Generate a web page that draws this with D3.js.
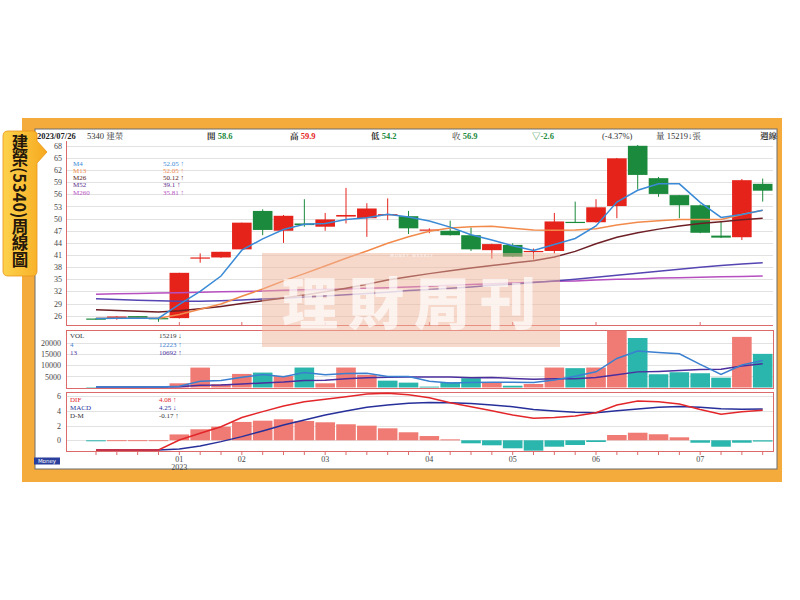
<!DOCTYPE html>
<html><head><meta charset="utf-8">
<script src="https://cdn.jsdelivr.net/npm/d3@7/dist/d3.min.js"></script>
<style>body{margin:0;background:#fff}</style>
</head><body>
<svg id="c" width="800" height="600"></svg>
<script>
// ---------------- data (weekly, Dec 2022 – Jul 2023) ----------------
const weekIdx = d3.range(33);
const openP  = [25.3,25.3,25.9,25.4,25.4,40.3,40.4,42.4,51.9,47.0,48.8,48.0,50.5,50.1,51.0,50.6,47.1,47.0,45.9,42.2,43.5,41.9,42.0,49.2,49.1,53.1,68.0,60.0,55.8,53.3,45.8,45.4,58.6];
const highP  = [25.4,25.9,25.9,25.5,36.6,41.4,41.8,49.0,52.3,50.9,54.8,51.4,57.6,53.8,55.0,51.9,47.6,49.5,47.8,43.8,43.9,42.6,51.4,54.2,54.8,65.0,68.2,60.3,55.8,53.5,49.2,59.8,59.9];
const lowP   = [25.0,25.0,25.3,24.5,25.3,39.1,40.3,42.4,45.9,44.0,48.0,47.0,48.8,45.5,49.6,46.2,46.4,45.8,42.0,40.1,40.5,39.9,41.4,49.0,49.0,50.1,57.2,55.4,50.1,46.4,45.2,44.7,54.2];
const closeP = [25.2,25.8,25.4,25.3,36.6,40.4,41.8,49.0,47.2,50.7,48.4,49.8,50.9,52.5,51.1,47.6,47.3,45.9,42.4,43.7,40.6,42.0,49.3,49.1,52.8,64.9,60.8,56.1,53.3,46.5,45.3,59.5,56.9];
const ma4    = [25.3,25.4,25.4,25.4,28.8,32.0,35.8,42.2,45.0,47.3,48.6,48.8,49.8,50.2,51.1,50.4,49.4,47.9,46.0,44.7,43.3,42.1,43.6,45.1,48.2,54.1,57.0,58.6,58.6,54.0,50.3,51.0,52.05];
const ma13   = [25.4,25.4,25.4,25.4,26.3,27.6,28.9,30.8,32.6,34.6,36.4,38.3,40.2,42.0,43.9,45.5,46.9,47.7,48.0,48.1,47.6,47.2,47.1,47.2,47.5,48.4,49.1,49.5,49.8,49.8,49.8,51.0,52.05];
const ma26   = [27.5,27.3,27.1,26.9,27.2,27.7,28.3,29.0,29.7,30.4,31.1,31.9,32.8,33.8,34.8,35.6,36.4,37.1,37.8,38.4,39.0,39.6,40.5,41.9,43.8,45.4,46.5,47.4,48.2,48.8,49.2,49.7,50.12];
const ma52   = [30.2,30.0,29.8,29.7,29.6,29.6,29.7,29.9,30.1,30.3,30.6,30.9,31.2,31.5,31.8,32.2,32.5,32.8,33.1,33.5,33.8,34.2,34.6,35.0,35.5,36.0,36.5,37.0,37.5,38.0,38.4,38.8,39.1];
const ma260  = [31.3,31.4,31.5,31.6,31.7,31.8,31.9,32.0,32.1,32.3,32.4,32.5,32.6,32.8,32.9,33.1,33.3,33.5,33.7,33.9,34.1,34.3,34.5,34.6,34.8,35.0,35.1,35.3,35.4,35.5,35.6,35.7,35.81];
const volume = [200,150,150,250,1900,9000,1500,6150,6750,5240,9030,1900,9030,5700,3100,2200,400,2350,4200,2350,800,1600,9030,8750,9030,25700,22400,6000,6900,6450,4450,22900,15219];
const volMa4 = [200,180,170,190,610,2800,3150,4640,5850,4910,6790,5730,6300,6415,4930,5010,2850,2010,2290,2325,2425,2240,3445,5045,7100,13140,16480,15800,15260,10440,5950,10175,12223];
const volMa13= [200,200,200,200,330,1000,1100,1560,2070,2450,3130,3260,3940,4370,4590,4750,4760,4800,4430,4490,4080,3680,3980,3950,4500,5790,7070,7290,7650,8120,8280,9720,10692];
const dif    = [-1.32,-1.32,-1.32,-1.32,0.04,0.95,1.85,3.1,3.9,4.67,5.25,5.6,5.93,6.3,6.4,6.2,5.8,5.1,4.57,4.03,3.44,3.0,3.1,3.3,3.76,4.8,5.35,5.25,4.94,4.2,3.54,3.9,4.08];
const macd   = [-1.32,-1.32,-1.32,-1.32,-1.18,-0.78,-0.18,0.5,1.27,2.08,2.76,3.44,3.99,4.49,4.8,5.05,5.15,5.1,5.0,4.8,4.57,4.2,4.0,3.8,3.76,4.03,4.26,4.5,4.6,4.49,4.3,4.22,4.25];
const dm     = [-0.02,0.02,0.02,0.02,0.8,1.5,1.85,2.5,2.67,2.86,2.63,2.45,2.18,1.99,1.63,1.09,0.58,0.13,-0.41,-0.68,-1.09,-1.41,-0.87,-0.64,-0.23,0.72,1.03,0.82,0.41,-0.33,-0.87,-0.33,-0.17];
const monthIdx    = [4,7,11,16,20,24,29];
const monthLabels = ["01","02","03","04","05","06","07"];
const priceTicks  = [26,29,32,35,38,41,44,47,50,53,56,59,62,65,68];
const volTicks    = [5000,10000,15000,20000];
const macdTicks   = [0,2,4,6];
const maNames  = ["M4","M13","M26","M52","M260"];
const maLast   = ["52.05 ↑","52.05 ↑","50.12 ↑","39.1 ↑","35.81 ↑"];
const volNames = ["VOL","4","13"];
const volLast  = ["15219 ↓","12223 ↑","10692 ↑"];
const macdNames= ["DIF","MACD","D-M"];
const macdLast = ["4.08 ↑","4.25 ↓","-0.17 ↑"];

// ---------------- drawing ----------------
const svg = d3.select("#c");
const SERIF = "'Liberation Serif','Noto Serif CJK TC','Noto Sans CJK TC',serif";
const CJK = "'Noto Sans CJK TC','Liberation Serif',sans-serif";
const RED = "#e5231b", GREEN = "#1c8a3c", SALMON = "#f07b74", TEAL = "#2ab5ad";
const PANEL = "#dc6a6a";

// frame
svg.append("rect").attr("x",22).attr("y",118).attr("width",760).attr("height",364).attr("fill","#f5aa3c");
svg.append("rect").attr("x",35).attr("y",129).attr("width",742).attr("height",340).attr("fill","#fff").attr("stroke","#6d6d6d").attr("stroke-width",1);

// side tag (drawn before header so header text stays on top)
const defs = svg.append("defs");
const gr = defs.append("linearGradient").attr("id","tagG").attr("x1",0).attr("x2",1).attr("y1",0).attr("y2",0);
gr.append("stop").attr("offset","0%").attr("stop-color","#fdd24c");
gr.append("stop").attr("offset","100%").attr("stop-color","#f6a91f");
svg.append("path").attr("d","M8,131 H33 Q37,131 37,135 V141 L47,152 L37,163 V271 Q37,276 32,276 H8 Q3,276 3,271 V136 Q3,131 8,131 Z")
  .attr("fill","url(#tagG)").attr("stroke","#e8951a").attr("stroke-width",0.8);
svg.append("text").attr("x",20).attr("y",134).attr("font-family",CJK).attr("font-weight","bold").attr("font-size",16.5)
  .attr("fill","#24170b").style("writing-mode","vertical-rl").text("建榮(5340)周線圖");

const L = 66, R = 773;
const x = d3.scalePoint().domain(weekIdx).range([96, 762.7]);
const bw = 19.6;

const yP = d3.scaleLinear().domain([26,68]).range([315.7,145.8]);
const yV = d3.scaleLinear().domain([0,20000]).range([387.5,343.3]);
const yM = d3.scaleLinear().domain([0,6]).range([440.3,396.2]);

// gridlines
const grid = svg.append("g").attr("stroke","#e2e2e2").attr("stroke-width",1);
grid.selectAll(".gp").data(priceTicks).join("line").attr("x1",L).attr("x2",R).attr("y1",d=>Math.round(yP(d))+0.5).attr("y2",d=>Math.round(yP(d))+0.5);
grid.selectAll(".gv").data(volTicks).join("line").attr("x1",L).attr("x2",R).attr("y1",d=>Math.round(yV(d))+0.5).attr("y2",d=>Math.round(yV(d))+0.5);
grid.selectAll(".gm").data(macdTicks).join("line").attr("x1",L).attr("x2",R).attr("y1",d=>Math.round(yM(d))+0.5).attr("y2",d=>Math.round(yM(d))+0.5);

// axes labels (left)
const axisText = (g) => g.selectAll("text").attr("font-family",SERIF).attr("font-size",8).attr("fill","#444");
const aP = d3.axisLeft(yP).tickValues(priceTicks).tickSize(0).tickPadding(4);
svg.append("g").attr("transform",`translate(${L},0)`).call(aP).call(g=>g.select(".domain").remove()).call(axisText);
const aV = d3.axisLeft(yV).tickValues(volTicks).tickSize(0).tickPadding(5).tickFormat(d3.format("d"));
svg.append("g").attr("transform",`translate(${L},0)`).call(aV).call(g=>g.select(".domain").remove()).call(axisText);
const aM = d3.axisLeft(yM).tickValues(macdTicks).tickSize(0).tickPadding(5).tickFormat(d3.format("d"));
svg.append("g").attr("transform",`translate(${L},0)`).call(aM).call(g=>g.select(".domain").remove()).call(axisText);

// panel borders
const pb = svg.append("g").attr("stroke",PANEL).attr("fill","none").attr("stroke-width",1);
pb.append("line").attr("x1",L+0.5).attr("x2",L+0.5).attr("y1",141).attr("y2",325);
pb.append("line").attr("x1",L).attr("x2",R).attr("y1",325.5).attr("y2",325.5);
pb.append("rect").attr("x",L+0.5).attr("y",330.5).attr("width",R-L).attr("height",58);
pb.append("rect").attr("x",L+0.5).attr("y",392.5).attr("width",R-L).attr("height",59);
pb.selectAll(".mt").data(monthIdx).join("line").attr("x1",d=>x(d)).attr("x2",d=>x(d)).attr("y1",322).attr("y2",325);
pb.selectAll(".wt").data(weekIdx).join("line").attr("x1",d=>x(d)).attr("x2",d=>x(d)).attr("y1",452).attr("y2",455);

// candles
const cg = svg.append("g");
const cColor = i => closeP[i] >= openP[i] ? RED : GREEN;
cg.selectAll(".wick").data(weekIdx).join("line")
  .attr("x1",i=>x(i)).attr("x2",i=>x(i)).attr("y1",i=>yP(highP[i])).attr("y2",i=>yP(lowP[i]))
  .attr("stroke",cColor).attr("stroke-width",1);
cg.selectAll(".body").data(weekIdx).join("rect")
  .attr("x",i=>x(i)-bw/2).attr("width",bw)
  .attr("y",i=>yP(Math.max(openP[i],closeP[i])))
  .attr("height",i=>Math.max(1.2, Math.abs(yP(openP[i])-yP(closeP[i]))))
  .attr("fill",cColor);

// MA lines
const lineP = d3.line().x((d,i)=>x(i)).y(d=>yP(d));
const maSeries = [[ma260,"#b64fc0"],[ma52,"#5445b2"],[ma26,"#6e1f25"],[ma13,"#f28a4c"],[ma4,"#3a8ad6"]];
maSeries.forEach(([arr,col])=>{
  svg.append("path").attr("d",lineP(arr)).attr("fill","none").attr("stroke",col).attr("stroke-width",1.5);
});

// volume bars
const vColor = i => (i===0 ? closeP[i]>=openP[i] : closeP[i]>=closeP[i-1]) ? SALMON : TEAL;
svg.append("g").selectAll("rect").data(weekIdx).join("rect")
  .attr("x",i=>x(i)-bw/2).attr("width",bw)
  .attr("y",i=>yV(volume[i])).attr("height",i=>yV(0)-yV(volume[i]))
  .attr("fill",vColor);
const lineV = d3.line().x((d,i)=>x(i)).y(d=>yV(d));
svg.append("path").attr("d",lineV(volMa13)).attr("fill","none").attr("stroke","#4b2f9e").attr("stroke-width",1.5);
svg.append("path").attr("d",lineV(volMa4)).attr("fill","none").attr("stroke","#3a7fd0").attr("stroke-width",1.5);

// MACD histogram
svg.append("g").selectAll("rect").data(weekIdx).join("rect")
  .attr("x",i=>x(i)-bw/2).attr("width",bw)
  .attr("y",i=>yM(Math.max(0,dm[i]))).attr("height",i=>Math.max(1,Math.abs(yM(dm[i])-yM(0))))
  .attr("fill",i=>dm[i]>=0?SALMON:TEAL);
const lineM = d3.line().x((d,i)=>x(i)).y(d=>yM(d));
svg.append("path").attr("d",lineM(macd)).attr("fill","none").attr("stroke","#27309a").attr("stroke-width",1.5);
svg.append("path").attr("d",lineM(dif)).attr("fill","none").attr("stroke","#e3262a").attr("stroke-width",1.5);

// legends
const maCols = ["#3a8ad6","#f28a4c","#5a1a1a","#5a2a8a","#b64fc0"];
const lg = svg.append("g").attr("font-family",SERIF).attr("font-size",7);
maNames.forEach((n,i)=>{
  lg.append("text").attr("x",73).attr("y",165.5+i*7.3).attr("fill",maCols[i]).text(n);
  lg.append("text").attr("x",163).attr("y",165.5+i*7.3).attr("fill",maCols[i]).text(maLast[i]);
});
const vCols = ["#333","#3a7fd0","#4b2f9e"];
volNames.forEach((n,i)=>{
  lg.append("text").attr("x",70).attr("y",338+i*8.7).attr("fill",vCols[i]).text(n);
  lg.append("text").attr("x",159).attr("y",338+i*8.7).attr("fill",vCols[i]).text(volLast[i]);
});
const mCols = ["#e3262a","#27309a","#333"];
macdNames.forEach((n,i)=>{
  lg.append("text").attr("x",70).attr("y",402+i*8).attr("fill",mCols[i]).text(n);
  lg.append("text").attr("x",159).attr("y",402+i*8).attr("fill",mCols[i]).text(macdLast[i]);
});

// x-axis month labels
const xl = svg.append("g").attr("font-family",SERIF).attr("font-size",8).attr("fill","#444").attr("text-anchor","middle");
xl.selectAll("text").data(monthIdx).join("text").attr("x",d=>x(d)).attr("y",462).text((d,i)=>monthLabels[i]);
xl.append("text").attr("x",x(monthIdx[0])).attr("y",469.5).text("2023");

// Money box
svg.append("rect").attr("x",34).attr("y",457.5).attr("width",26).attr("height",7).attr("fill","#2b3f9c");
svg.append("text").attr("x",47).attr("y",463.3).attr("font-family","'DejaVu Sans',sans-serif").attr("font-size",5.5).attr("fill","#fff").attr("text-anchor","middle").text("Money");

// header
const hd = svg.append("g").attr("font-size",8.5).attr("font-family",SERIF);
const hdr = [
  [37,"2023/07/26","#222",true],[87,"5340 建榮","#333",false],
  [207,"開 ","#333",true,"58.6",GREEN],[290,"高 ","#333",true,"59.9",RED],
  [371,"低 ","#333",true,"54.2",GREEN],[452,"收 ","#333",false,"56.9",GREEN],
  [532,"▽-2.6",GREEN,true],[602,"(-4.37%)","#333",false],
  [656,"量 15219↓張","#333",false],[760,"週線","#333",true]
];
hdr.forEach(h=>{
  const t = hd.append("text").attr("x",h[0]).attr("y",139);
  t.append("tspan").attr("fill",h[2]).attr("font-weight",h[3]?"bold":"normal").text(h[1]);
  if(h[4]) t.append("tspan").attr("fill",h[5]).attr("font-weight","bold").text(h[4]);
});

// watermark
const wm = svg.append("g");
wm.append("rect").attr("x",262).attr("y",253).attr("width",298).attr("height",94).attr("fill","#f0b49a").attr("opacity",0.5);
wm.append("text").attr("x",414).attr("y",324).attr("text-anchor","middle").attr("font-family",CJK)
  .attr("font-weight",900).attr("font-size",56).attr("letter-spacing",10).attr("fill","#fff").attr("opacity",0.7).text("理財周刊");
wm.append("text").attr("x",412).attr("y",257).attr("text-anchor","middle").attr("font-family","'DejaVu Sans',sans-serif")
  .attr("font-size",4).attr("letter-spacing",1).attr("fill","#fff").attr("opacity",0.85).text("MONEY WEEKLY");
</script>
</body></html>
